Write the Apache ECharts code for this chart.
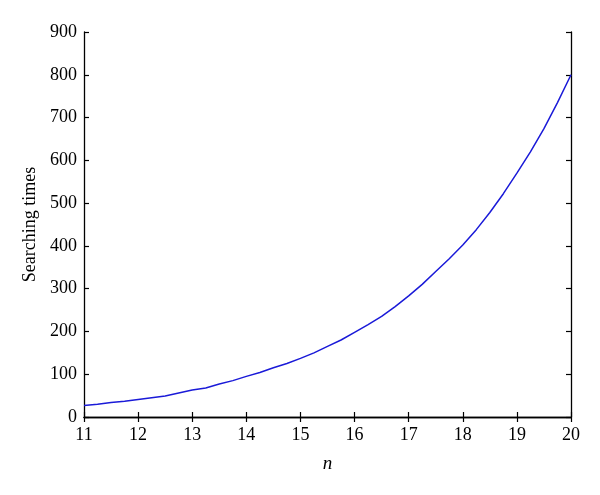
<!DOCTYPE html>
<html>
<head>
<meta charset="utf-8">
<script src="https://cdn.jsdelivr.net/npm/echarts@6/dist/echarts.min.js"></script>
<style>
html,body{margin:0;padding:0;background:#fff;}
#chart{width:600px;height:495px;}
</style>
</head>
<body>
<div id="chart"></div>
<script>
// n values and searching times
var nValues = [11, 11.25, 11.5, 11.75, 12, 12.25, 12.5, 12.75, 13, 13.25, 13.5, 13.75, 14, 14.25, 14.5, 14.75,
	15, 15.25, 15.5, 15.75, 16, 16.25, 16.5, 16.75, 17, 17.25, 17.5, 17.75, 18, 18.25, 18.5, 18.75,
	19, 19.25, 19.5, 19.75, 20];
var searchTimes = [27, 30, 34, 37, 41, 45, 49, 56, 63, 68, 77, 85, 95, 104, 115, 125,
	137, 150, 165, 180, 198, 216, 235, 258, 283, 310, 340, 370, 402, 438, 478, 522,
	570, 620, 674, 735, 800];

var pts = [];
for (var i = 0; i < nValues.length; i++) {
	pts.push([nValues[i], searchTimes[i]]);
}

var font = 'Liberation Serif';
var axisLine = {show: true, lineStyle: {color: '#000', width: 1.3}};
var tick = {show: true, inside: true, length: 5, lineStyle: {color: '#000', width: 1.2}};

var myChart = echarts.init(document.getElementById('chart'));
var option = {
	animation: false,
	grid: {left: 84, right: 29, top: 32, bottom: 78},
	xAxis: [{
		type: 'value',
		min: 11, max: 20, interval: 1,
		name: 'n',
		nameLocation: 'middle',
		nameGap: 37,
		nameTextStyle: {fontFamily: font, fontStyle: 'italic', fontSize: 19, color: '#000'},
		axisLine: axisLine,
		axisTick: tick,
		splitLine: {show: false},
		axisLabel: {fontFamily: font, fontSize: 18, color: '#000', margin: 9}
	}, {
		type: 'value',
		position: 'top',
		min: 11, max: 20, interval: 1,
		axisLine: axisLine,
		axisTick: tick,
		splitLine: {show: false},
		axisLabel: {show: false}
	}],
	yAxis: [{
		type: 'value',
		min: 0, max: 900, interval: 100,
		name: 'Searching times',
		nameLocation: 'middle',
		nameGap: 42,
		nameTextStyle: {fontFamily: font, fontSize: 18, color: '#000'},
		axisLine: axisLine,
		axisTick: tick,
		splitLine: {show: false},
		axisLabel: {fontFamily: font, fontSize: 18, color: '#000', margin: 7}
	}, {
		type: 'value',
		position: 'right',
		min: 0, max: 900, interval: 100,
		axisLine: axisLine,
		axisTick: tick,
		splitLine: {show: false},
		axisLabel: {show: false}
	}],
	series: [{
		type: 'line',
		data: pts,
		showSymbol: false,
		smooth: false,
		lineStyle: {color: '#1a1ad8', width: 1.5}
	}]
};
myChart.setOption(option);
</script>
</body>
</html>
